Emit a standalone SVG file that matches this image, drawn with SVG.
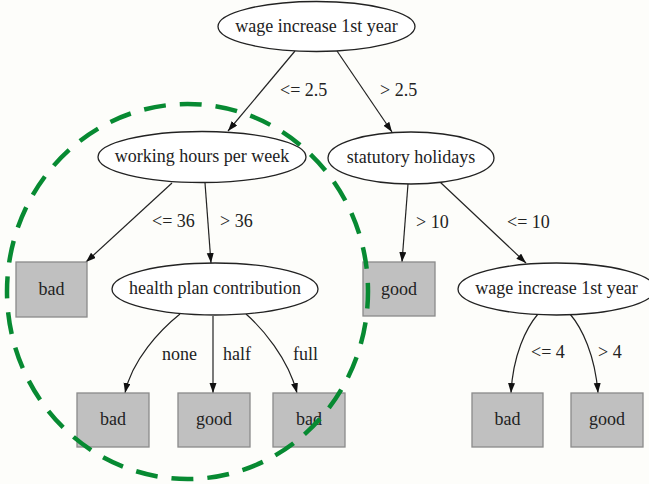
<svg xmlns="http://www.w3.org/2000/svg" width="649" height="484" viewBox="0 0 649 484">
  <defs>
    <marker id="arrow" markerUnits="userSpaceOnUse" markerWidth="11" markerHeight="8" refX="10" refY="3.5" orient="auto">
      <path d="M0,0 L10,3.5 L0,7 z" fill="#111"/>
    </marker>
    <style>
      text { font-family: "Liberation Serif", "Times New Roman", serif; font-size: 18px; fill: #222; }
      .split ellipse { fill: #ffffff; stroke: #222; stroke-width: 1.3; }
      .split text, .leaf text { text-anchor: middle; }
      .leaf rect { fill: #c0c0c0; stroke: #8a8a8a; stroke-width: 1.3; }
      .edges path { fill: none; stroke: #222; stroke-width: 1.2; marker-end: url(#arrow); }
      .highlight { fill: none; stroke: #078a32; stroke-width: 4.5; stroke-dasharray: 22 14; stroke-dashoffset: 5; }
    </style>
  </defs>

  <rect width="649" height="484" fill="#fdfdfa"/>

  <!-- connectors and their labels -->
  <g id="edges" class="edges">
    <path d="M295,51 L228,131"/>
    <path d="M337,51 L392,132"/>
    <path d="M172,183 L86,262"/>
    <path d="M205,183 L211,263"/>
    <path d="M408,184 L402,262"/>
    <path d="M440,182 L526,263"/>
    <path d="M180,314 C160,330 132,360 125,393"/>
    <path d="M213,316 L213,393"/>
    <path d="M246,314 C262,328 288,358 297,393"/>
    <path d="M538,314 C526,328 513,355 511,393"/>
    <path d="M570,314 C582,328 595,355 598,393"/>
    <text x="280" y="96">&lt;= 2.5</text>
    <text x="380" y="96">&gt; 2.5</text>
    <text x="152" y="227">&lt;= 36</text>
    <text x="220" y="227">&gt; 36</text>
    <text x="416" y="228">&gt; 10</text>
    <text x="507" y="228">&lt;= 10</text>
    <text x="162" y="360">none</text>
    <text x="223" y="360">half</text>
    <text x="293" y="360">full</text>
    <text x="531" y="358">&lt;= 4</text>
    <text x="598" y="358">&gt; 4</text>
  </g>

  <!-- split nodes -->
  <g id="wage1" class="split">
    <ellipse cx="316.5" cy="26.5" rx="98.5" ry="25"/>
    <text x="316.5" y="31.5">wage increase 1st year</text>
  </g>
  <g id="hours" class="split">
    <ellipse cx="202" cy="157" rx="104" ry="25.5"/>
    <text x="202" y="162">working hours per week</text>
  </g>
  <g id="holidays" class="split">
    <ellipse cx="411" cy="158" rx="83" ry="26"/>
    <text x="411" y="163">statutory holidays</text>
  </g>
  <g id="health" class="split">
    <ellipse cx="215" cy="289" rx="103" ry="26"/>
    <text x="215" y="294">health plan contribution</text>
  </g>
  <g id="wage2" class="split">
    <ellipse cx="556.5" cy="289" rx="98.5" ry="26"/>
    <text x="556.5" y="294">wage increase 1st year</text>
  </g>

  <!-- leaf nodes -->
  <g id="leaf-bad-hours" class="leaf">
    <rect x="16" y="262" width="71" height="55"/>
    <text x="51.5" y="295">bad</text>
  </g>
  <g id="leaf-good-holidays" class="leaf">
    <rect x="363" y="262" width="72" height="54"/>
    <text x="399" y="295">good</text>
  </g>
  <g id="leaf-bad-none" class="leaf">
    <rect x="77" y="393" width="72" height="54"/>
    <text x="113" y="425">bad</text>
  </g>
  <g id="leaf-good-half" class="leaf">
    <rect x="178" y="393" width="72" height="54"/>
    <text x="214" y="425">good</text>
  </g>
  <g id="leaf-bad-full" class="leaf">
    <rect x="273" y="393" width="72" height="54"/>
    <text x="309" y="425">bad</text>
  </g>
  <g id="leaf-bad-wage" class="leaf">
    <rect x="472" y="393" width="71" height="54"/>
    <text x="507.5" y="425">bad</text>
  </g>
  <g id="leaf-good-wage" class="leaf">
    <rect x="571" y="393" width="72" height="54"/>
    <text x="607" y="425">good</text>
  </g>

  <!-- dashed outline around the working-hours subtree -->
  <ellipse id="subtree-outline" class="highlight" cx="187.5" cy="291.5" rx="180.5" ry="187.5"/>
</svg>
